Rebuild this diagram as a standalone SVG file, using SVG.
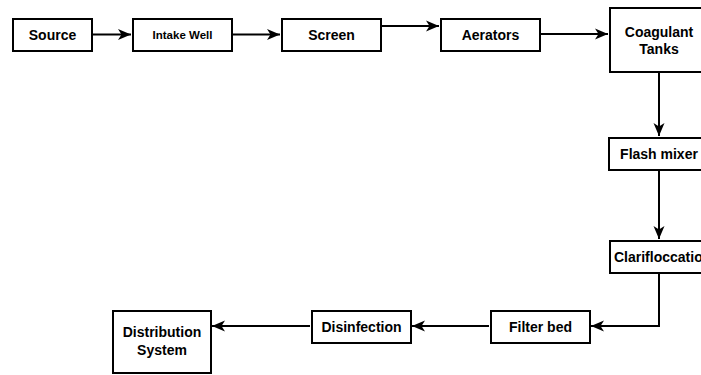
<svg xmlns="http://www.w3.org/2000/svg" width="701" height="375" viewBox="0 0 701 375">
<style>
.box{fill:#fff;stroke:#000;stroke-width:2}
.t{font-family:"Liberation Sans",Arial,sans-serif;font-weight:bold;font-size:14px;fill:#000;text-anchor:middle}
.s{font-size:11.5px}
.c{fill:none;stroke:#000;stroke-width:2}
</style>
<defs>
<marker id="arr" markerUnits="userSpaceOnUse" markerWidth="15" markerHeight="14" refX="13" refY="7" orient="auto">
<path d="M0,1.5 L13,7 L0,12.5 L3.5,7 z" fill="#000"/>
</marker>
</defs>
<rect width="701" height="375" fill="#fff"/>
<g id="connectors">
<path class="c" d="M93,34.5 H131" marker-end="url(#arr)"/>
<path class="c" d="M233,34.5 H280" marker-end="url(#arr)"/>
<path class="c" d="M382,26 H439" marker-end="url(#arr)"/>
<path class="c" d="M541,34 H608" marker-end="url(#arr)"/>
<path class="c" d="M659,73 V136" marker-end="url(#arr)"/>
<path class="c" d="M659,171 V239" marker-end="url(#arr)"/>
<path class="c" d="M659,274 V326 H591" marker-end="url(#arr)"/>
<path class="c" d="M489,326 H412" marker-end="url(#arr)"/>
<path class="c" d="M310,326 H212" marker-end="url(#arr)"/>
</g>
<g id="source"><rect class="box" x="13" y="19" width="79" height="32"/><text class="t" x="52.5" y="39.5">Source</text></g>
<g id="intake"><rect class="box" x="133" y="19" width="99" height="32"/><text class="t s" x="182.5" y="38.5">Intake Well</text></g>
<g id="screen"><rect class="box" x="282" y="19" width="99" height="32"/><text class="t" x="331.5" y="39.5">Screen</text></g>
<g id="aerators"><rect class="box" x="441" y="19" width="99" height="32"/><text class="t" x="490.5" y="39.5">Aerators</text></g>
<g id="coagulant"><rect class="box" x="610" y="8" width="100" height="64"/><text class="t" x="659" y="36.5">Coagulant</text><text class="t" x="659" y="53.5">Tanks</text></g>
<g id="flash"><rect class="box" x="609" y="138" width="100" height="32"/><text class="t" x="659" y="158.5">Flash mixer</text></g>
<g id="clari"><rect class="box" x="610" y="241" width="100" height="32"/><text class="t" x="614" y="261.5" style="text-anchor:start">Clarifloccation</text></g>
<g id="filter"><rect class="box" x="491" y="311" width="99" height="32"/><text class="t" x="540.5" y="331.5">Filter bed</text></g>
<g id="disinfection"><rect class="box" x="312" y="311" width="99" height="32"/><text class="t" x="361.5" y="331.5">Disinfection</text></g>
<g id="distribution"><rect class="box" x="113" y="311" width="98" height="62"/><text class="t" x="162" y="337">Distribution</text><text class="t" x="162" y="355">System</text></g>
</svg>
